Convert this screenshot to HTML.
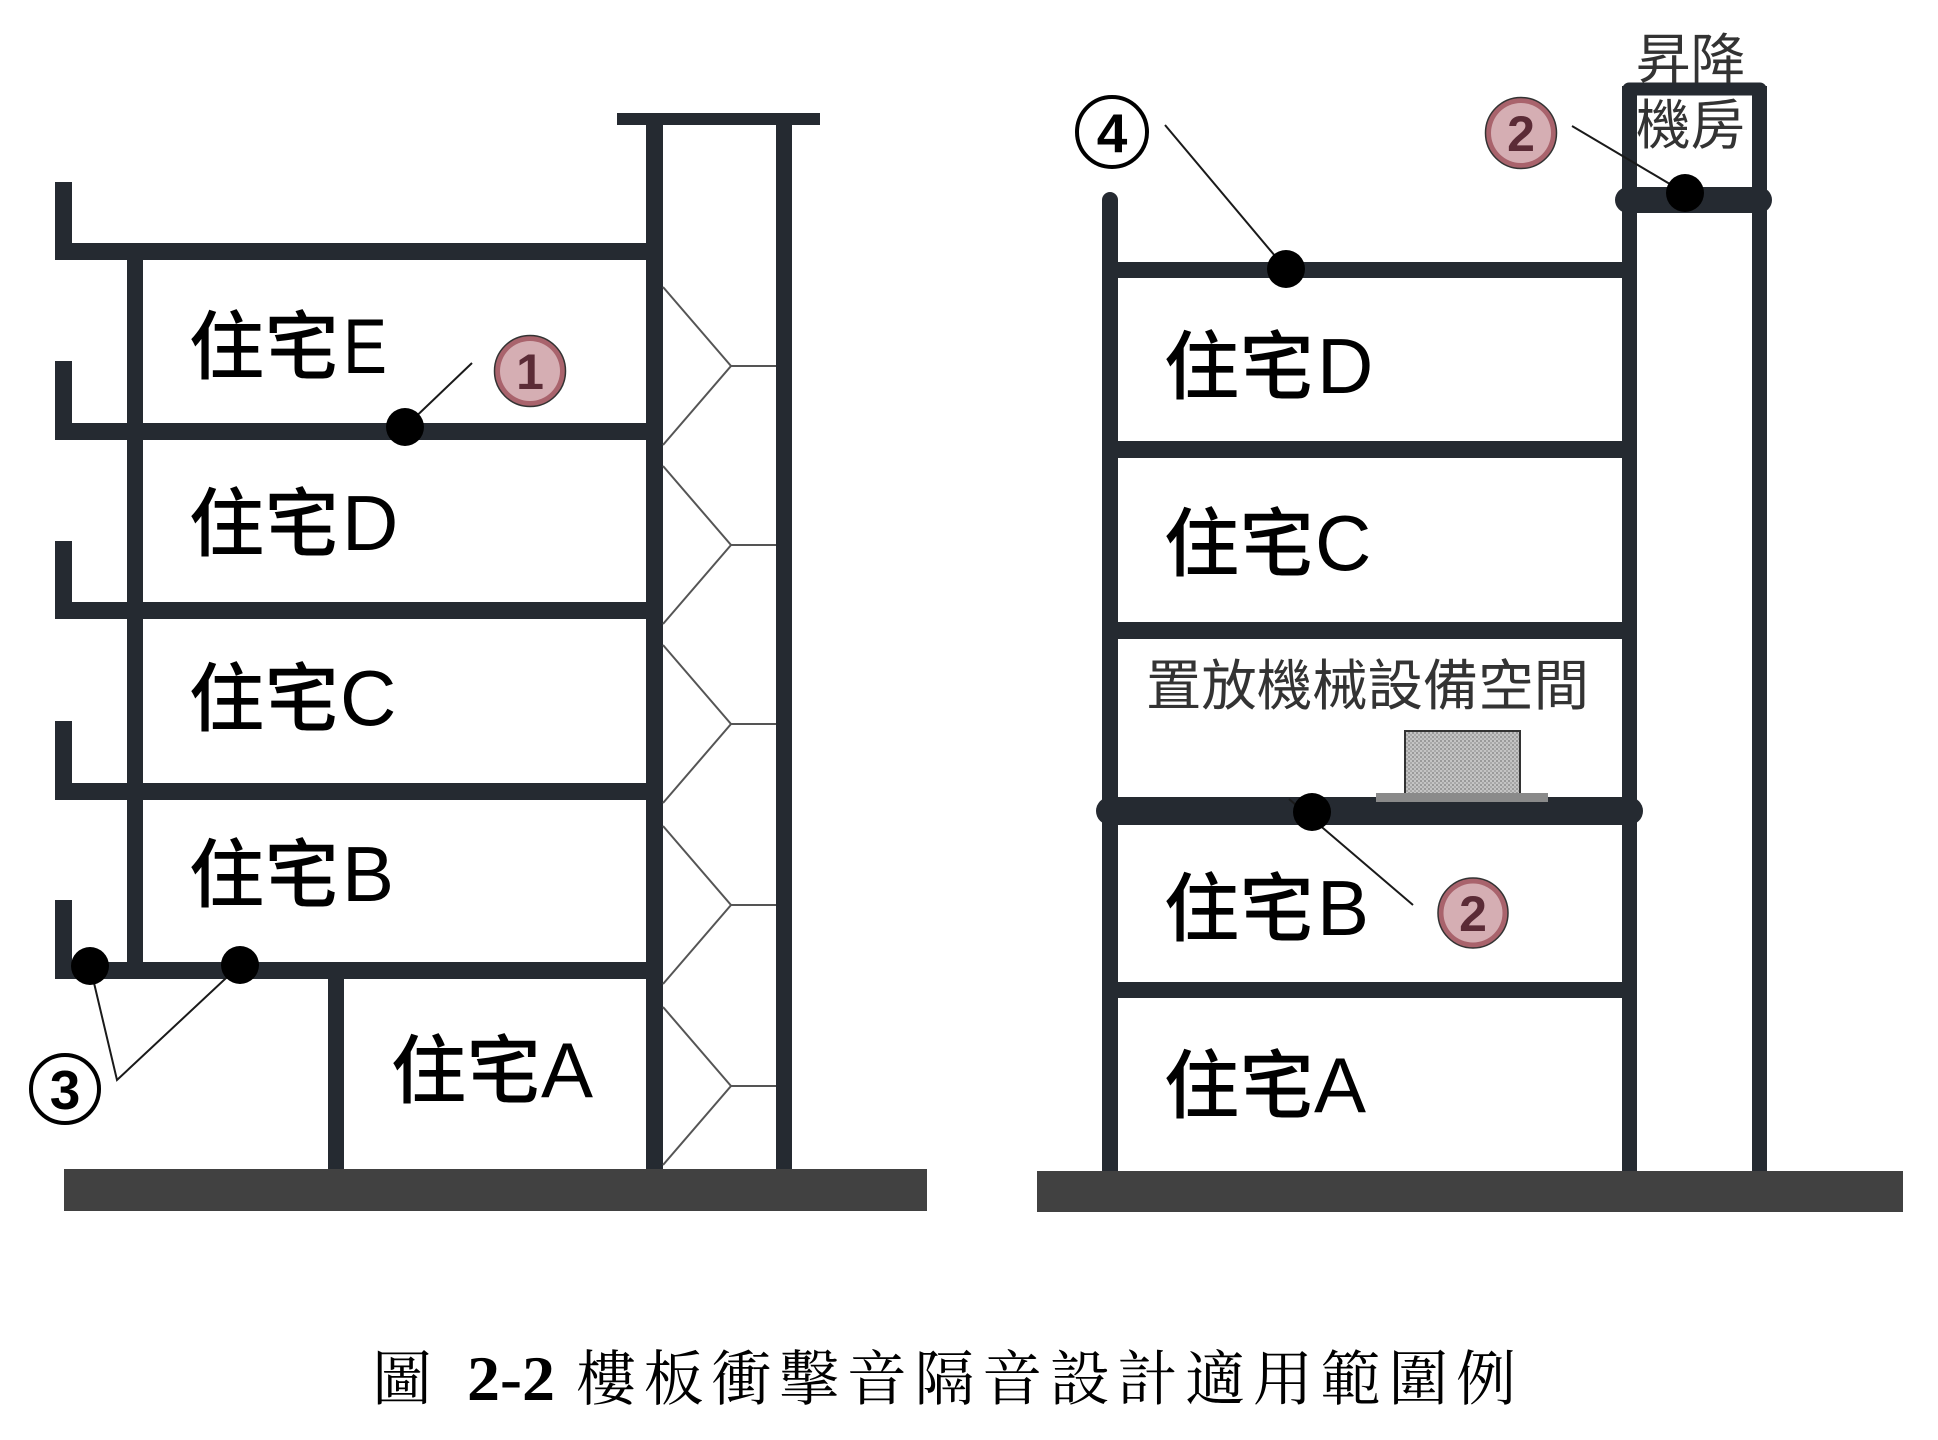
<!DOCTYPE html>
<html>
<head>
<meta charset="utf-8">
<style>
html,body{margin:0;padding:0;background:#fff;}
svg{display:block;}
.lbl{font-family:"Liberation Sans","Noto Sans CJK TC",sans-serif;font-size:75px;font-weight:500;fill:#000;}
.let{font-family:"Liberation Sans","Noto Sans CJK TC",sans-serif;font-size:78px;fill:#000;}
.thin{font-family:"Liberation Sans","Noto Sans CJK TC",sans-serif;fill:#333;font-weight:400;}
.pk{font-family:"Liberation Sans",sans-serif;font-size:50px;font-weight:bold;fill:#5b2b36;}
.bk{font-family:"Liberation Sans",sans-serif;font-size:55px;font-weight:bold;fill:#000;}
.cap{font-family:"Liberation Serif","Noto Serif CJK SC",serif;font-size:60px;fill:#000;font-weight:400;}
</style>
</head>
<body>
<svg width="1938" height="1440" viewBox="0 0 1938 1440" xmlns="http://www.w3.org/2000/svg">
<defs>
<pattern id="dots" width="4" height="4" patternUnits="userSpaceOnUse">
<rect width="4" height="4" fill="#c4c4c4"/>
<rect width="2" height="2" fill="#9a9a9a"/>
<rect x="2" y="2" width="2" height="2" fill="#a8a8a8"/>
</pattern>
</defs>
<rect width="1938" height="1440" fill="#fff"/>

<!-- ============ LEFT BUILDING ============ -->
<g fill="#252a31">
<rect x="617" y="113" width="203" height="12"/>
<rect x="646" y="113" width="17" height="1060"/>
<rect x="776" y="113" width="16" height="1060"/>
<rect x="55" y="243" width="608" height="17"/>
<rect x="55" y="423" width="608" height="17"/>
<rect x="55" y="602" width="608" height="17"/>
<rect x="55" y="783" width="608" height="17"/>
<rect x="55" y="962" width="608" height="17"/>
<rect x="55" y="182" width="17" height="78"/>
<rect x="55" y="361" width="17" height="79"/>
<rect x="55" y="541" width="17" height="78"/>
<rect x="55" y="721" width="17" height="79"/>
<rect x="55" y="900" width="17" height="79"/>
<rect x="127" y="243" width="16" height="736"/>
<rect x="328" y="962" width="16" height="211"/>
</g>
<g fill="none" stroke="#555" stroke-width="2">
<polyline points="663,287 731,366 663,445"/><line x1="731" y1="366" x2="776" y2="366"/>
<polyline points="663,466 731,545 663,624"/><line x1="731" y1="545" x2="776" y2="545"/>
<polyline points="663,645 731,724 663,803"/><line x1="731" y1="724" x2="776" y2="724"/>
<polyline points="663,826 731,905 663,984"/><line x1="731" y1="905" x2="776" y2="905"/>
<polyline points="663,1007 731,1086 663,1165"/><line x1="731" y1="1086" x2="776" y2="1086"/>
</g>
<rect x="64" y="1169" width="863" height="42" fill="#414141"/>

<text class="lbl" x="189" y="373">住宅</text><text class="let" x="343" y="373" textLength="44" lengthAdjust="spacingAndGlyphs">E</text>
<text class="lbl" x="189" y="550">住宅</text><text class="let" x="342" y="550">D</text>
<text class="lbl" x="189" y="725">住宅</text><text class="let" x="340" y="725">C</text>
<text class="lbl" x="189" y="901">住宅</text><text class="let" x="342" y="901">B</text>
<text class="lbl" x="391" y="1097">住宅</text><text class="let" x="541" y="1097">A</text>

<!-- ============ RIGHT BUILDING ============ -->
<g stroke="#252a31" fill="none" stroke-linecap="round">
<line x1="1110" y1="200" x2="1110" y2="1180" stroke-width="16"/>
<line x1="1629" y1="89" x2="1760" y2="89" stroke-width="13"/>
<line x1="1628" y1="200" x2="1759" y2="200" stroke-width="26"/>
<line x1="1110" y1="811" x2="1629" y2="811" stroke-width="28"/>
</g>
<g fill="#252a31">
<rect x="1622" y="86" width="15" height="1090"/>
<rect x="1752" y="86" width="15" height="1090"/>
<rect x="1110" y="262" width="519" height="16"/>
<rect x="1110" y="441" width="519" height="17"/>
<rect x="1110" y="622" width="519" height="17"/>
<rect x="1110" y="982" width="519" height="16"/>
</g>
<rect x="1405" y="731" width="115" height="63" fill="url(#dots)" stroke="#333" stroke-width="2"/>
<rect x="1376" y="793" width="172" height="9" fill="#8a8a8a"/>
<rect x="1037" y="1171" width="866" height="41" fill="#414141"/>

<text class="lbl" x="1164" y="393">住宅</text><text class="let" x="1317" y="393">D</text>
<text class="lbl" x="1164" y="570">住宅</text><text class="let" x="1315" y="570">C</text>
<text class="thin" x="1146" y="705" font-size="55" textLength="443" lengthAdjust="spacingAndGlyphs">置放機械設備空間</text>
<text class="lbl" x="1164" y="935">住宅</text><text class="let" x="1317" y="935">B</text>
<text class="lbl" x="1164" y="1112">住宅</text><text class="let" x="1314" y="1112">A</text>
<text class="thin" x="1636" y="78" font-size="54" textLength="109" lengthAdjust="spacingAndGlyphs">昇降</text>
<text class="thin" x="1636" y="144" font-size="54" textLength="109" lengthAdjust="spacingAndGlyphs">機房</text>

<g stroke="#1a1a1a" stroke-width="2" fill="none">
<line x1="405" y1="427" x2="472" y2="363"/>
<polyline points="90,966 117,1080 240,965"/>
<line x1="1165" y1="125" x2="1286" y2="269"/>
<line x1="1572" y1="126" x2="1685" y2="193"/>
<line x1="1289" y1="799" x2="1413" y2="905"/>
</g>
<g fill="#000">
<circle cx="405" cy="427" r="19"/>
<circle cx="90" cy="966" r="19"/>
<circle cx="240" cy="965" r="19"/>
<circle cx="1286" cy="269" r="19"/>
<circle cx="1685" cy="193" r="19"/>
<circle cx="1312" cy="812" r="19"/>
</g>

<g>
<circle cx="530" cy="371" r="35.5" fill="#a9636c" stroke="#333" stroke-width="1.5"/>
<circle cx="530" cy="371" r="30" fill="#d5aeb3"/>
<text class="pk" x="530" y="389" text-anchor="middle">1</text>
<circle cx="1521" cy="133" r="35.5" fill="#a9636c" stroke="#333" stroke-width="1.5"/>
<circle cx="1521" cy="133" r="30" fill="#d5aeb3"/>
<text class="pk" x="1521" y="151" text-anchor="middle">2</text>
<circle cx="1473" cy="913" r="35" fill="#a9636c" stroke="#333" stroke-width="1.5"/>
<circle cx="1473" cy="913" r="29.5" fill="#d5aeb3"/>
<text class="pk" x="1473" y="931" text-anchor="middle">2</text>
</g>
<circle cx="1112" cy="132" r="35" fill="#fff" stroke="#000" stroke-width="4"/>
<text class="bk" x="1112" y="152" text-anchor="middle">4</text>
<circle cx="65" cy="1089" r="34" fill="#fff" stroke="#000" stroke-width="4"/>
<text class="bk" x="65" y="1109" text-anchor="middle">3</text>

<text class="cap" x="372" y="1400">圖</text>
<text x="467" y="1400" font-family="'Liberation Serif',serif" font-size="64" font-weight="bold" textLength="88" lengthAdjust="spacingAndGlyphs">2-2</text>
<text class="cap" x="576" y="1400" textLength="940" lengthAdjust="spacing">樓板衝擊音隔音設計適用範圍例</text>
</svg>
</body>
</html>
